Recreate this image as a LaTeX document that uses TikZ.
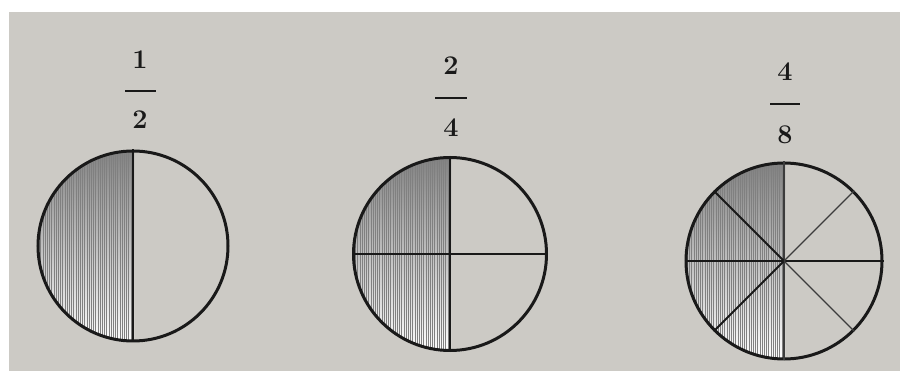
\documentclass[tikz,border=0pt]{standalone}
\usetikzlibrary{calc}
\definecolor{paper}{RGB}{204,202,197}
\definecolor{shade}{RGB}{128,127,124}
\definecolor{ink}{RGB}{25,25,25}
\begin{document}
\begin{tikzpicture}[x=1pt,y=-1pt,
  disc/.style={circle,draw=ink,line width=3pt,inner sep=0pt,minimum size=#1},
  num/.style={font=\fontsize{27}{27}\selectfont\bfseries,text=ink,inner sep=0pt},
  bar/.style={draw=ink,line width=2pt},
  divide/.style={draw=ink,line width=1.8pt},
  thin/.style={draw=ink!85,line width=1.1pt},
  hatch/.style={draw=black!50,line width=0.5pt}]
\useasboundingbox (0,0) rectangle (900,371);
\fill[white] (0,0) rectangle (900,371);
\fill[paper] (9,12) rectangle (900,371);

% ---------- circle 1 : 1/2 ----------
\coordinate (c1) at (133,246);
\begin{scope}
  \clip (c1) circle (95pt);
  \fill[shade] (c1) ++(-100,-100) rectangle ($(c1)+(1,100)$);
  \foreach \i in {0,...,45} \draw[hatch] ($(c1)+(-2.2*\i,-100)$) -- ++(0,200);
\end{scope}
\node[disc=190pt] (d1) at (c1) {};
\draw[divide] (d1.north) -- (d1.south);
\node[num] (n1) at (140,60) {1};
\coordinate (b1l) at (125,91); \coordinate (b1r) at (156,91);
\draw[bar] (b1l) -- (b1r);
\node[num] (m1) at (140,120) {2};

% ---------- circle 2 : 2/4 ----------
\coordinate (c2) at (450,254);
\begin{scope}
  \clip (c2) circle (96pt);
  \fill[shade] (c2) ++(-100,-100) rectangle ($(c2)+(1,100)$);
  \foreach \i in {0,...,45} \draw[hatch] ($(c2)+(-2.2*\i,-100)$) -- ++(0,200);
\end{scope}
\node[disc=193pt] (d2) at (c2) {};
\draw[divide] (d2.north) -- (d2.south);
\draw[divide] (d2.west) -- (d2.east);
\node[num] (n2) at (451,66) {2};
\coordinate (b2l) at (435,98); \coordinate (b2r) at (467,98);
\draw[bar] (b2l) -- (b2r);
\node[num] (m2) at (451,128) {4};

% ---------- circle 3 : 4/8 ----------
\coordinate (c3) at (784,261);
\begin{scope}
  \clip (c3) circle (97pt);
  \fill[shade] (c3) ++(-100,-100) rectangle ($(c3)+(1,100)$);
  \foreach \i in {0,...,45} \draw[hatch] ($(c3)+(-2.2*\i,-100)$) -- ++(0,200);
\end{scope}
\node[disc=196pt] (d3) at (c3) {};
\draw[thin] (d3.north) -- (d3.south);
\draw[divide] (d3.west) -- (d3.east);
\draw[divide] (d3.north west) -- (d3.center);
\draw[divide] (d3.south west) -- (d3.center);
\draw[thin] (d3.north east) -- (d3.center);
\draw[thin] (d3.south east) -- (d3.center);
\node[num] (n3) at (785,72) {4};
\coordinate (b3l) at (770,104); \coordinate (b3r) at (800,104);
\draw[bar] (b3l) -- (b3r);
\node[num] (m3) at (785,135) {8};
\end{tikzpicture}
\end{document}
